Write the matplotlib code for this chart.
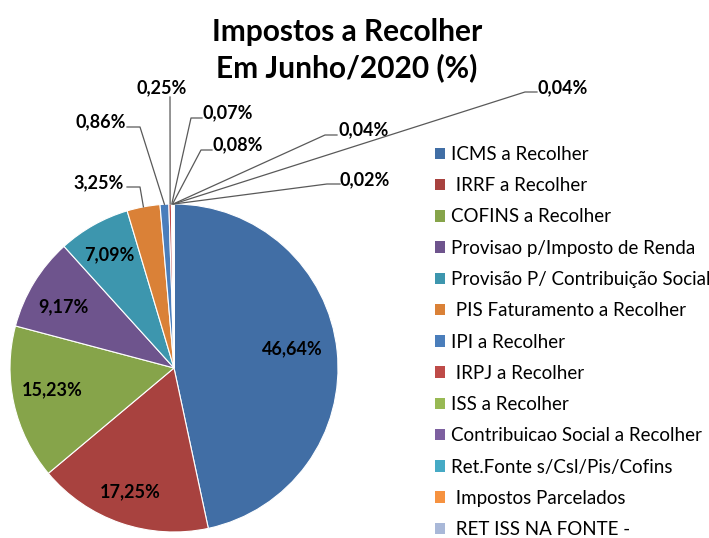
import numpy as np
import matplotlib
matplotlib.use("Agg")
import matplotlib.pyplot as plt
from matplotlib.patches import Patch

# ==========================================
# DADOS
# ==========================================

categorias = [
    "ICMS a Recolher",
    " IRRF a Recolher",
    "COFINS a Recolher",
    "Provisao p/Imposto de Renda",
    "Provisão P/ Contribuição Social",
    " PIS Faturamento a Recolher",
    "IPI a Recolher",
    " IRPJ a Recolher",
    "ISS a Recolher",
    "Contribuicao Social a Recolher",
    "Ret.Fonte s/Csl/Pis/Cofins",
    " Impostos Parcelados",
    " RET ISS NA FONTE -",
]

valores = [46.64, 17.25, 15.23, 9.17, 7.09, 3.25, 0.86, 0.25, 0.07, 0.08, 0.04, 0.04, 0.02]

cores = [
    "#416EA5", "#A8423F", "#86A44A", "#6E548D", "#3D96AE", "#DA8137",
    "#4A7EBB", "#BE4B48", "#98B954", "#7D60A0", "#46AAC5", "#F69240", "#A9B8D8",
]

# ==========================================
# FIGURA
# ==========================================

plt.rcParams["font.family"] = ["Lato", "DejaVu Sans"]

W, H = 709, 538
fig = plt.figure(figsize=(W / 100, H / 100), dpi=100)
ax = fig.add_axes([0, 0, 1, 1])

cx, cy, r = 174, H - 368, 164

wedges, _ = ax.pie(
    valores,
    colors=cores,
    startangle=90,
    counterclock=False,
    center=(cx, cy),
    radius=r,
    wedgeprops=dict(edgecolor="white", linewidth=0.8),
    frame=True,
)
ax.set_xlim(0, W)
ax.set_ylim(0, H)
ax.set_aspect("equal")
ax.axis("off")

def fmt(v):
    return f"{v:.2f}".replace(".", ",") + "%"

# rótulos internos (posição em pixels)
internos = {0: (292, 349), 1: (130, 492), 2: (52, 390), 3: (63, 307), 4: (109, 255)}
for i, (px, py) in internos.items():
    ax.text(px, H - py, fmt(valores[i]), ha="center", va="center",
            fontsize=13, fontweight="bold", color="black")

# rótulos externos: (centro do texto, cotovelo 1, cotovelo 2)
externos = {
    5: ((99, 183), (127, 187), (140, 187)),
    6: ((101, 122), (127, 127), (140, 127)),
    7: ((162, 88), None, (170, 97)),
    8: ((228, 113), (202, 118), (191, 118)),
    9: ((238, 145), (212, 150), (201, 150)),
    10: ((364, 130), (337, 135), (325, 135)),
    11: ((563, 88), (537, 92), (525, 92)),
    12: ((365, 180), (340, 184), (327, 184)),
}

for i, ((tx, ty), p1, p2) in externos.items():
    w = wedges[i]
    ang = np.deg2rad((w.theta1 + w.theta2) / 2)
    ex = cx + r * np.cos(ang)
    ey = cy + r * np.sin(ang)
    pts = []
    if p1 is not None:
        pts.append((p1[0], H - p1[1]))
    pts.append((p2[0], H - p2[1]))
    pts.append((ex, ey))
    xs, ys = zip(*pts)
    ax.plot(xs, ys, color="#595959", linewidth=0.9, zorder=1)
    ax.text(tx, H - ty, fmt(valores[i]), ha="center", va="center",
            fontsize=13, fontweight="bold", color="black")

# título
ax.text(347, H - 32, "Impostos a Recolher", ha="center", va="center",
        fontsize=21.5, fontweight="bold")
ax.text(347, H - 68, "Em Junho/2020 (%)", ha="center", va="center",
        fontsize=21.5, fontweight="bold")

# legenda
handles = [Patch(facecolor=c, edgecolor="none") for c in cores]
leg = ax.legend(
    handles, categorias,
    loc="upper left",
    bbox_to_anchor=(435 / W, 1 - 146 / H),
    frameon=False,
    fontsize=13.5,
    handlelength=0.55,
    handleheight=0.55,
    handletextpad=0.3,
    labelspacing=0.76,
    borderaxespad=0,
    borderpad=0,
)

fig.savefig("out.png", dpi=100, facecolor="white")
